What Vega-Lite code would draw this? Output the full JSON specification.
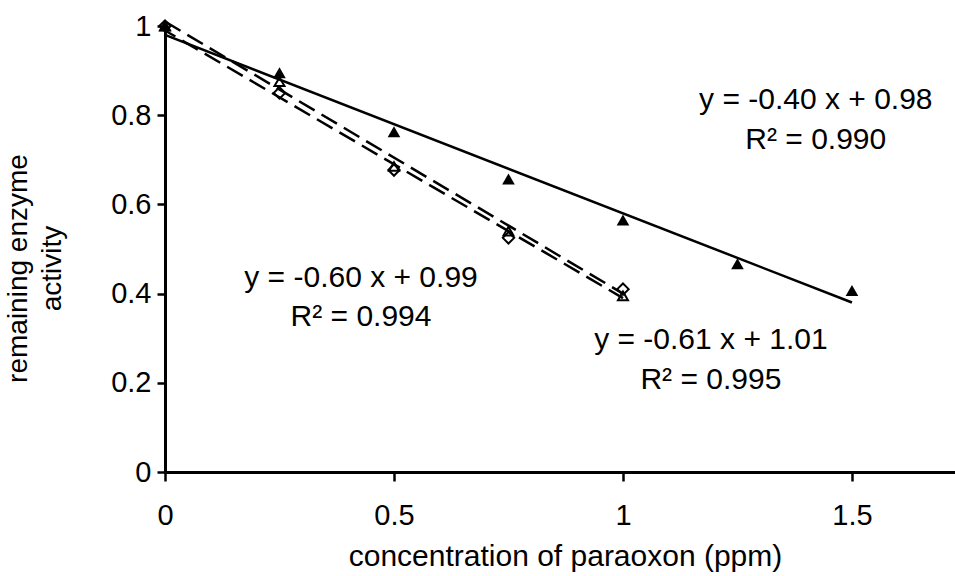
{
  "$schema": "https://vega.github.io/schema/vega-lite/v6.json",
  "width": 790,
  "height": 446,
  "autosize": {"type": "none"},
  "padding": {"left": 165, "top": 26, "right": 0, "bottom": 104},
  "background": "white",
  "config": {
    "view": {"stroke": null},
    "font": "Liberation Sans",
    "axis": {"grid": false, "domainColor": "black", "domainWidth": 3, "tickColor": "black", "tickWidth": 2.5, "labelColor": "black", "labelFontSize": 29, "labelFlush": false, "labelOverlap": false, "labelFont": "Liberation Sans", "titleFont": "Liberation Sans", "titleFontWeight": "normal", "titleColor": "black", "titleFontSize": 29}
  },
  "datasets": {
    "points": [
      {"series": "A", "x": 0, "y": 1.0},
      {"series": "A", "x": 0.25, "y": 0.895},
      {"series": "A", "x": 0.5, "y": 0.763},
      {"series": "A", "x": 0.75, "y": 0.657},
      {"series": "A", "x": 1.0, "y": 0.565},
      {"series": "A", "x": 1.25, "y": 0.467},
      {"series": "A", "x": 1.5, "y": 0.407},
      {"series": "B", "x": 0, "y": 1.0},
      {"series": "B", "x": 0.25, "y": 0.875},
      {"series": "B", "x": 0.5, "y": 0.685},
      {"series": "B", "x": 0.75, "y": 0.54},
      {"series": "B", "x": 1.0, "y": 0.395},
      {"series": "C", "x": 0, "y": 1.0},
      {"series": "C", "x": 0.25, "y": 0.85},
      {"series": "C", "x": 0.5, "y": 0.677},
      {"series": "C", "x": 0.75, "y": 0.525},
      {"series": "C", "x": 1.0, "y": 0.41}
    ],
    "fits": [
      {"series": "A", "x": 0, "y": 0.98},
      {"series": "A", "x": 1.5, "y": 0.38},
      {"series": "B", "x": 0, "y": 1.01},
      {"series": "B", "x": 1.0, "y": 0.40},
      {"series": "C", "x": 0, "y": 0.99},
      {"series": "C", "x": 1.0, "y": 0.39}
    ],
    "labels": [
      {"text": "y = -0.40 x + 0.98", "x": 1.421, "y": 0.834},
      {"text": "R² = 0.990", "x": 1.421, "y": 0.744},
      {"text": "y = -0.60 x + 0.99", "x": 0.428, "y": 0.435},
      {"text": "R² = 0.994", "x": 0.428, "y": 0.348},
      {"text": "y = -0.61 x + 1.01", "x": 1.192, "y": 0.296},
      {"text": "R² = 0.995", "x": 1.192, "y": 0.206}
    ]
  },
  "layer": [
    {
      "data": {"name": "fits"},
      "transform": [{"filter": "datum.series === 'A'"}],
      "mark": {"type": "line", "color": "black", "strokeWidth": 2.5},
      "encoding": {
        "x": {"field": "x", "type": "quantitative", "scale": {"domain": [0, 1.725], "nice": false, "zero": true},
          "axis": {"values": [0, 0.5, 1, 1.5], "title": "concentration of paraoxon (ppm)", "titleFontSize": 30, "tickSize": 9, "labelPadding": 20, "format": "~g", "titleBaseline": "alphabetic", "titleY": 93, "titleX": 400}},
        "y": {"field": "y", "type": "quantitative", "scale": {"domain": [0, 1], "nice": false},
          "axis": {"values": [0, 0.2, 0.4, 0.6, 0.8, 1], "format": "~g", "tickSize": 8, "labelPadding": 6, "title": ["remaining enzyme", "activity"], "titleFontSize": 28, "titleAngle": -90, "titleBaseline": "top", "titleAlign": "center", "titleX": -161, "titleY": 242, "titleLineHeight": 34}}
      }
    },
    {
      "data": {"name": "fits"},
      "transform": [{"filter": "datum.series === 'B'"}],
      "mark": {"type": "line", "color": "black", "strokeWidth": 2.5, "strokeDash": [18, 8], "clip": false},
      "encoding": {"x": {"field": "x", "type": "quantitative"}, "y": {"field": "y", "type": "quantitative"}}
    },
    {
      "data": {"name": "fits"},
      "transform": [{"filter": "datum.series === 'C'"}],
      "mark": {"type": "line", "color": "black", "strokeWidth": 2.5, "strokeDash": [18, 8], "strokeDashOffset": 6},
      "encoding": {"x": {"field": "x", "type": "quantitative"}, "y": {"field": "y", "type": "quantitative"}}
    },
    {
      "mark": {"type": "rule", "color": "black", "strokeWidth": 3},
      "encoding": {"y": {"datum": 1}}
    },
    {
      "data": {"name": "points"},
      "transform": [{"filter": "datum.series === 'A'"}],
      "mark": {"type": "point", "shape": "triangle-up", "filled": true, "color": "black", "size": 160, "opacity": 1},
      "encoding": {"x": {"field": "x", "type": "quantitative"}, "y": {"field": "y", "type": "quantitative"}}
    },
    {
      "data": {"name": "points"},
      "transform": [{"filter": "datum.series === 'B'"}],
      "mark": {"type": "point", "shape": "triangle-up", "filled": false, "color": "black", "strokeWidth": 2, "size": 100, "opacity": 1},
      "encoding": {"x": {"field": "x", "type": "quantitative"}, "y": {"field": "y", "type": "quantitative"}}
    },
    {
      "data": {"name": "points"},
      "transform": [{"filter": "datum.series === 'C'"}],
      "mark": {"type": "point", "shape": "diamond", "filled": false, "color": "black", "strokeWidth": 2, "size": 130, "opacity": 1},
      "encoding": {"x": {"field": "x", "type": "quantitative"}, "y": {"field": "y", "type": "quantitative"}}
    },
    {
      "data": {"name": "labels"},
      "mark": {"type": "text", "fontSize": 30, "color": "black", "font": "Liberation Sans", "align": "center", "baseline": "middle"},
      "encoding": {"x": {"field": "x", "type": "quantitative"}, "y": {"field": "y", "type": "quantitative"}, "text": {"field": "text"}}
    }
  ]
}
